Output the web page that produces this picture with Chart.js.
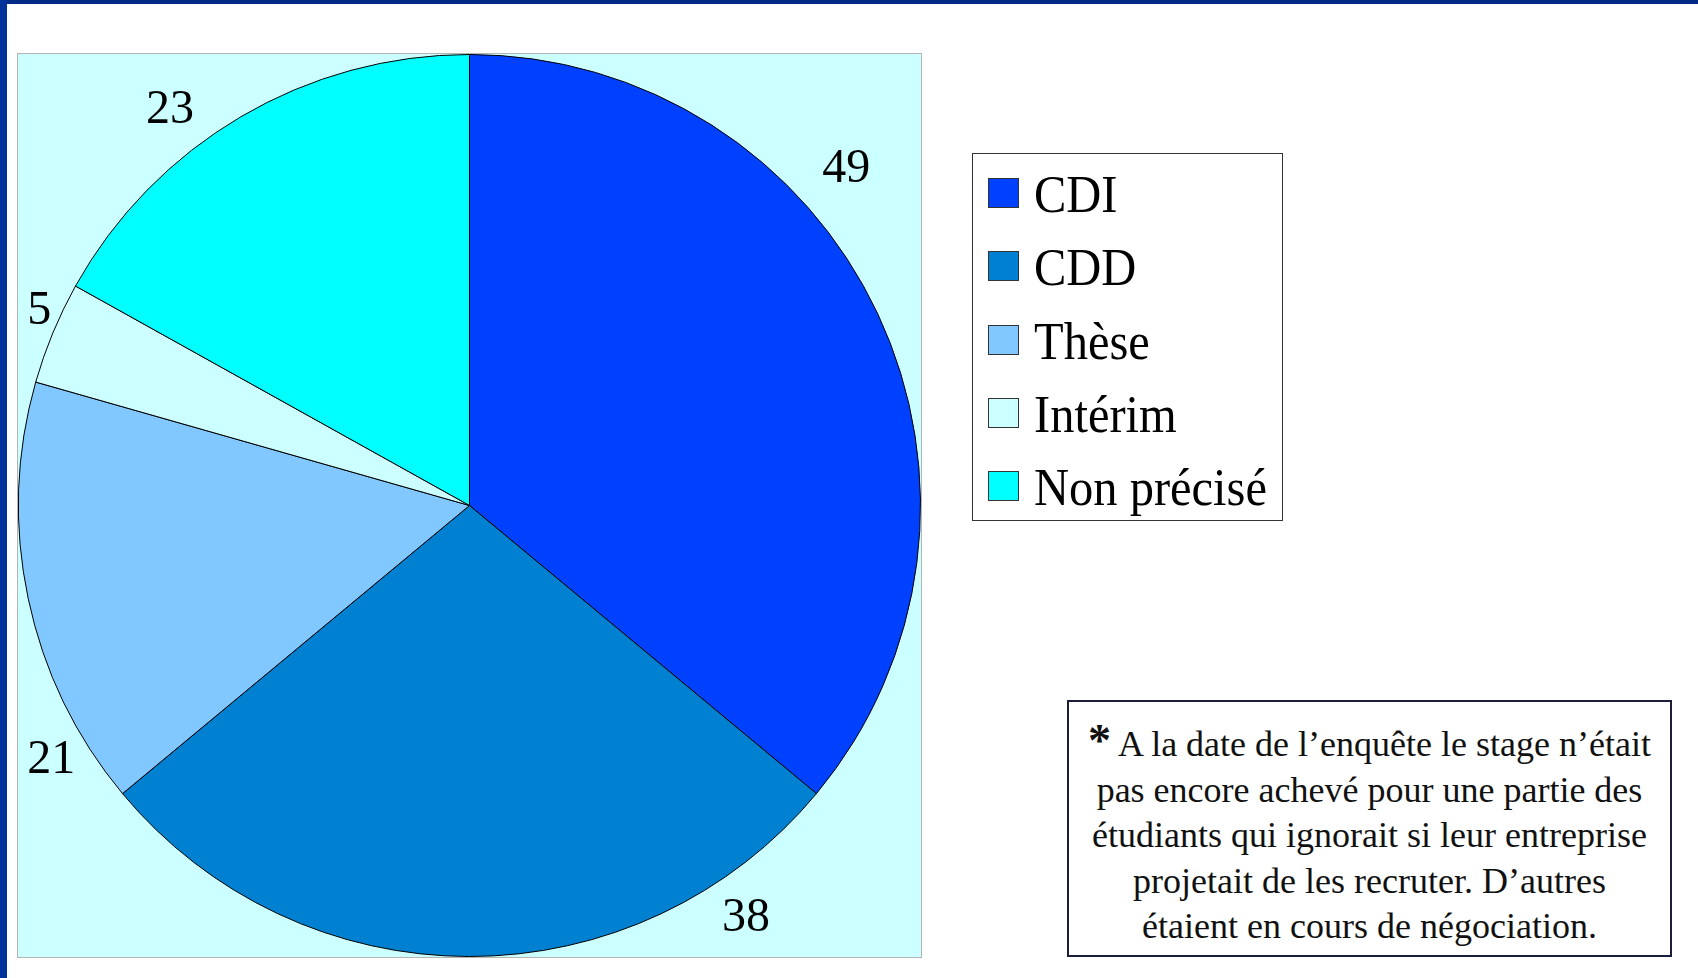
<!DOCTYPE html>
<html>
<head>
<meta charset="utf-8">
<script src="https://cdn.jsdelivr.net/npm/chart.js@4.4.1/dist/chart.umd.min.js"></script>
<style>
  html, body { margin: 0; padding: 0; background: #ffffff; }
  body { width: 1698px; height: 978px; position: relative; overflow: hidden; font-family: "Liberation Serif", "DejaVu Serif", serif; }
  #topbar { position: absolute; left: 0; top: 0; width: 1698px; height: 4px; background: #002b84; }
  #leftbar { position: absolute; left: 0; top: 0; width: 7px; height: 978px; background: #003399; }
  #plot { position: absolute; left: 17px; top: 53px; width: 905px; height: 905px; box-sizing: border-box; border: 1px solid #b4b4b4; background: #ccffff; }
  #legend { position: absolute; left: 972px; top: 153px; width: 311px; height: 368px; box-sizing: border-box; border: 1px solid #333333; background: #ffffff; }
  .item { position: absolute; left: 15px; height: 40px; }
  .sw { position: absolute; left: 0; top: 0; width: 31px; height: 30px; box-sizing: border-box; border: 1px solid #333333; }
  .lt { position: absolute; left: 46px; top: -15px; font-size: 48.5px; line-height: 64px; white-space: nowrap; color: #000; transform: scaleY(1.08); transform-origin: 0 50%; }
  #note { position: absolute; left: 1067px; top: 700px; width: 605px; height: 257px; box-sizing: border-box; border: 2px solid #1c1c3c; background: #ffffff; text-align: center; font-size: 36px; line-height: 45.5px; padding-top: 20px; color: #111; }
  #note b { font-size: 46px; line-height: 30px; }
</style>
</head>
<body>
<div id="topbar"></div>
<div id="leftbar"></div>
<div id="plot"><canvas id="c"></canvas></div>
<div id="legend"></div>
<div id="note"><b>*</b> A la date de l’enquête le stage n’était<br>pas encore achevé pour une partie des<br>étudiants qui ignorait si leur entreprise<br>projetait de les recruter. D’autres<br>étaient en cours de négociation.</div>
<script>
const categories = ["CDI", "CDD", "Thèse", "Intérim", "Non précisé"];
const values = [49, 38, 21, 5, 23];
const colors = ["#0040ff", "#0080d0", "#80c8ff", "#ccffff", "#00ffff"];

// label placement relative to each slice (angle shift in degrees, radial distance beyond the rim)
const labelAngleShift = [-16.6, -33.8, -19.5, 1.8, -6.7];
const labelRadialOffset = [54, 46, 39, 21, 45];

// HTML legend built from the arrays
const legend = document.getElementById('legend');
categories.forEach((name, i) => {
  const it = document.createElement('div');
  it.className = 'item';
  it.style.top = (24 + i * 73.3) + 'px';
  const sw = document.createElement('div');
  sw.className = 'sw';
  sw.style.background = colors[i];
  const lt = document.createElement('div');
  lt.className = 'lt';
  lt.textContent = name;
  it.appendChild(sw); it.appendChild(lt);
  legend.appendChild(it);
});

const sliceLabels = {
  id: 'sliceLabels',
  afterDatasetsDraw(chart) {
    const ctx = chart.ctx;
    const meta = chart.getDatasetMeta(0);
    ctx.save();
    ctx.font = '48px "Liberation Serif", serif';
    ctx.fillStyle = '#000';
    ctx.textAlign = 'center';
    ctx.textBaseline = 'middle';
    meta.data.forEach((arc, i) => {
      const p = arc.getProps(['startAngle', 'endAngle', 'outerRadius', 'x', 'y'], true);
      const mid = (p.startAngle + p.endAngle) / 2 + labelAngleShift[i] * Math.PI / 180;
      const r = p.outerRadius + labelRadialOffset[i];
      ctx.fillText(String(values[i]), p.x + Math.cos(mid) * r, p.y + Math.sin(mid) * r);
    });
    ctx.restore();
  }
};

new Chart(document.getElementById('c'), {
  type: 'pie',
  data: {
    labels: categories,
    datasets: [{
      data: values,
      backgroundColor: colors,
      borderColor: '#000000',
      borderWidth: 1,
      hoverOffset: 0
    }]
  },
  options: {
    responsive: true,
    maintainAspectRatio: false,
    animation: false,
    events: [],
    layout: { padding: 0 },
    plugins: { legend: { display: false }, tooltip: { enabled: false } }
  },
  plugins: [sliceLabels]
});
</script>
</body>
</html>
